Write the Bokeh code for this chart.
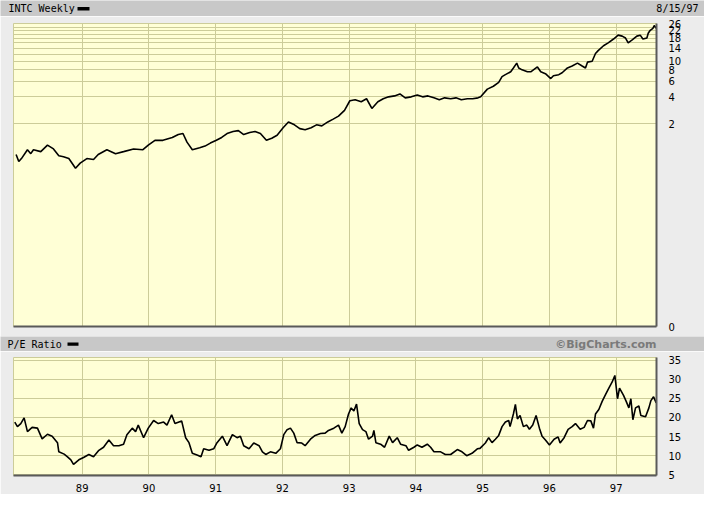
from bokeh.plotting import figure
from bokeh.layouts import column
from bokeh.models import Label, FixedTicker, Range1d, NumeralTickFormatter, BoxAnnotation
from bokeh.embed import file_html
from bokeh.resources import INLINE

# ---------------- data ----------------
price_dates = [1988.01, 1988.05, 1988.09, 1988.18, 1988.23, 1988.27, 1988.38, 1988.48, 1988.57, 1988.65,
               1988.72, 1988.80, 1988.90, 1988.97, 1989.07, 1989.17, 1989.24, 1989.37, 1989.50, 1989.62,
               1989.77, 1989.91, 1989.99, 1990.09, 1990.21, 1990.35, 1990.44, 1990.51, 1990.57, 1990.65,
               1990.76, 1990.84, 1990.92, 1991.01, 1991.09, 1991.17, 1991.26, 1991.34, 1991.42, 1991.51,
               1991.59, 1991.67, 1991.76, 1991.84, 1991.92, 1992.01, 1992.09, 1992.18, 1992.26, 1992.34,
               1992.43, 1992.51, 1992.59, 1992.68, 1992.76, 1992.84, 1992.93, 1993.01, 1993.09, 1993.18,
               1993.26, 1993.34, 1993.43, 1993.51, 1993.59, 1993.68, 1993.76, 1993.84, 1993.93, 1994.02,
               1994.10, 1994.18, 1994.27, 1994.35, 1994.43, 1994.52, 1994.60, 1994.68, 1994.77, 1994.85,
               1994.93, 1994.97, 1995.07, 1995.16, 1995.24, 1995.29, 1995.34, 1995.42, 1995.46, 1995.51,
               1995.54, 1995.59, 1995.67, 1995.72, 1995.76, 1995.82, 1995.87, 1995.94, 1996.02, 1996.06,
               1996.14, 1996.19, 1996.27, 1996.34, 1996.42, 1996.49, 1996.54, 1996.57, 1996.64, 1996.69,
               1996.73, 1996.81, 1996.88, 1996.96, 1997.03, 1997.09, 1997.14, 1997.18, 1997.24, 1997.31,
               1997.36, 1997.40, 1997.46, 1997.48, 1997.51, 1997.55, 1997.57, 1997.60]
price = [0.91, 0.76, 0.82, 1.03, 0.93, 1.03, 0.98, 1.16, 1.05, 0.88,
         0.86, 0.82, 0.64, 0.73, 0.82, 0.80, 0.91, 1.03, 0.93, 0.98,
         1.05, 1.03, 1.16, 1.31, 1.31, 1.41, 1.52, 1.56, 1.25, 1.03,
         1.08, 1.13, 1.22, 1.31, 1.41, 1.56, 1.64, 1.68, 1.52, 1.60,
         1.64, 1.56, 1.31, 1.38, 1.49, 1.81, 2.10, 1.95, 1.77, 1.72,
         1.81, 1.95, 1.90, 2.10, 2.26, 2.44, 2.83, 3.62, 3.71, 3.53,
         3.81, 2.97, 3.53, 3.81, 4.00, 4.10, 4.31, 3.90, 4.00, 4.20,
         4.00, 4.10, 3.90, 3.71, 3.90, 3.81, 3.90, 3.71, 3.81, 3.81,
         3.90, 4.00, 4.88, 5.25, 5.80, 6.73, 7.07, 7.61, 8.40, 9.51,
         8.40, 8.00, 7.61, 7.61, 8.00, 8.62, 7.61, 7.25, 6.40, 6.89,
         7.07, 7.43, 8.40, 8.83, 9.51, 8.83, 8.40, 9.75, 9.99, 12.18,
         13.12, 14.85, 16.00, 17.66, 19.50, 19.02, 18.10, 16.00, 17.23, 19.02,
         19.50, 17.66, 18.10, 20.49, 22.07, 23.19, 24.98, 23.19]

pe_dates = [1987.99, 1988.03, 1988.08, 1988.13, 1988.18, 1988.25, 1988.33, 1988.40, 1988.48, 1988.55,
            1988.63, 1988.65, 1988.73, 1988.78, 1988.83, 1988.87, 1988.95, 1989.02, 1989.10, 1989.17,
            1989.25, 1989.32, 1989.40, 1989.47, 1989.55, 1989.62, 1989.67, 1989.75, 1989.80, 1989.84,
            1989.92, 1989.99, 1990.07, 1990.14, 1990.22, 1990.27, 1990.34, 1990.39, 1990.49,
            1990.55, 1990.60, 1990.65, 1990.73, 1990.78, 1990.82, 1990.90, 1990.97, 1991.02, 1991.10,
            1991.17, 1991.25, 1991.32, 1991.37, 1991.42, 1991.50, 1991.57, 1991.65, 1991.70, 1991.75,
            1991.82, 1991.90, 1991.97, 1992.02, 1992.07, 1992.12, 1992.17, 1992.22, 1992.29, 1992.34,
            1992.42, 1992.49, 1992.57, 1992.64, 1992.69, 1992.77, 1992.84, 1992.89, 1992.94, 1992.99,
            1993.03, 1993.07, 1993.11, 1993.15, 1993.20, 1993.25, 1993.29, 1993.35, 1993.37, 1993.40,
            1993.47, 1993.53, 1993.60, 1993.65, 1993.72, 1993.77, 1993.85, 1993.89, 1993.97, 1994.02,
            1994.09, 1994.17, 1994.22, 1994.27, 1994.37, 1994.44, 1994.52, 1994.62, 1994.69, 1994.76,
            1994.84, 1994.92, 1994.96, 1995.04, 1995.09, 1995.14, 1995.19, 1995.24, 1995.29, 1995.34,
            1995.39, 1995.41, 1995.46, 1995.49, 1995.52, 1995.56, 1995.61, 1995.66, 1995.70, 1995.75,
            1995.80, 1995.85, 1995.89, 1995.94, 1996.00, 1996.07, 1996.13, 1996.16, 1996.22, 1996.28,
            1996.34, 1996.39, 1996.46, 1996.52, 1996.57, 1996.62, 1996.66, 1996.69, 1996.74, 1996.79,
            1996.84, 1996.89, 1996.94, 1996.98, 1997.02, 1997.05, 1997.11, 1997.15, 1997.19, 1997.22,
            1997.25, 1997.29, 1997.34, 1997.37, 1997.44, 1997.49, 1997.52, 1997.56, 1997.60]
pe = [18.8, 17.6, 18.4, 19.9, 16.3, 17.4, 17.2, 14.4, 15.6, 15.1,
      13.4, 11.0, 10.4, 9.7, 8.9, 7.7, 8.9, 9.5, 10.3, 9.7,
      11.4, 12.2, 14.1, 12.6, 12.6, 13.0, 15.5, 17.2, 16.3, 18.0,
      14.7, 17.2, 19.2, 18.4, 18.8, 18.0, 20.7, 18.4, 19.1, 14.7,
      13.4, 10.6, 10.1, 9.7, 11.8, 11.4, 11.8, 13.4, 15.1, 12.6,
      15.5, 14.7, 15.1, 12.6, 11.8, 13.3, 12.6, 11.0, 10.3, 11.0,
      10.6, 11.8, 15.5, 16.8, 17.2, 15.9, 13.4, 13.3, 12.6, 14.3,
      15.3, 15.8, 15.9, 16.6, 17.2, 18.0, 15.9, 17.6, 20.9, 22.5,
      21.7, 23.5, 18.4, 16.8, 16.3, 14.3, 15.1, 16.6, 13.4, 13.0,
      12.2, 15.1, 13.4, 14.7, 13.0, 12.6, 11.4, 12.2, 12.8, 12.2,
      13.0, 12.2, 11.0, 11.0, 10.3, 10.3, 11.6, 11.0, 10.0, 10.6,
      11.8, 11.9, 13.3, 14.7, 13.4, 14.3, 15.3, 17.6, 18.8, 19.2,
      17.6, 20.9, 23.4, 19.6, 20.5, 17.6, 18.0, 16.9, 18.0, 20.5,
      17.2, 15.1, 14.1, 12.8, 14.3, 14.9, 13.3, 14.7, 16.9, 17.6,
      18.4, 16.9, 17.4, 19.2, 19.1, 17.2, 20.9, 22.1, 24.2, 26.0,
      27.7, 29.3, 31.0, 24.9, 27.7, 25.8, 24.2, 22.5, 24.9, 19.4,
      22.5, 23.0, 20.5, 20.2, 22.5, 24.4, 25.4, 23.8]

year_ticks = [1989, 1990, 1991, 1992, 1993, 1994, 1995, 1996, 1997]
year_labels = ["89", "90", "91", "92", "93", "94", "95", "96", "97"]
price_label_ticks = [0.011, 2, 4, 6, 8, 10, 14, 18, 22, 26]
price_grid_ticks = [2, 4, 6, 8, 10, 12, 14, 16, 18, 20, 22, 24, 26]
pe_ticks = [5, 10, 15, 20, 25, 30, 35]

# ---------------- style ----------------
BG = "#ececec"
BAR = "#c8c8c8"
PLOT_BG = "#ffffd6"
GRID = "#cccc99"
EDGE = "#5a5a5a"
W = 704
LEFT, RIGHT = 13, 48
LABEL_FONT = "DejaVu Sans"
MONO = "DejaVu Sans Mono"


def header(height, left_text, left_px, swatch_px, right_text, right_px, right_bold, right_color):
    # full-width strip; opt out of frame alignment with the charts below
    f = figure(width=W, height=height, x_range=Range1d(0, W), y_range=Range1d(0, 1),
               x_axis_type=None, y_axis_type=None, toolbar_location=None,
               output_backend="svg", title=None, frame_align=False,
               min_border_left=0, min_border_right=0, min_border_top=0, min_border_bottom=0)
    f.background_fill_color = BAR
    f.border_fill_color = BAR
    f.outline_line_color = None
    f.add_layout(Label(x=left_px, y=0.5, text=left_text, text_font=MONO,
                       text_font_size="10px", text_baseline="middle", text_color="black"))
    f.add_layout(BoxAnnotation(left=swatch_px[0], right=swatch_px[1],
                               bottom=0.38, top=0.6, fill_color="black", fill_alpha=1, line_color=None))
    f.add_layout(Label(x=right_px, y=0.5, text=right_text,
                       text_font=(LABEL_FONT if right_bold else MONO),
                       text_font_style=("bold" if right_bold else "normal"),
                       text_font_size=("11px" if right_bold else "10px"),
                       text_align="right", text_baseline="middle", text_color=right_color))
    return f


def style_panel(p):
    p.background_fill_color = PLOT_BG
    p.border_fill_color = BG
    p.outline_line_color = GRID
    p.xgrid.ticker = FixedTicker(ticks=year_ticks)
    p.xgrid.grid_line_color = GRID
    p.ygrid.grid_line_color = GRID
    for ax in p.yaxis:
        ax.axis_line_color = EDGE
        ax.axis_line_width = 2
        ax.major_tick_line_color = None
        ax.minor_tick_line_color = None
        ax.major_label_standoff = 6
        ax.major_label_text_font = LABEL_FONT
        ax.major_label_text_font_size = "10px"
        ax.major_label_text_color = "black"
    for ax in p.xaxis:
        ax.axis_line_color = EDGE
        ax.axis_line_width = 2
        ax.major_tick_line_color = None
        ax.minor_tick_line_color = None


x_range = Range1d(1987.971, 1997.604)

head1 = header(16, "INTC Weekly", 8, (77, 89), "8/15/97", 698, False, "black")

top = figure(width=W, height=320, x_range=x_range, y_range=Range1d(0.011, 26.3),
             y_axis_type="log", y_axis_location="right", toolbar_location=None,
             output_backend="svg", title=None,
             min_border_left=LEFT, min_border_right=RIGHT, min_border_top=7, min_border_bottom=10)
top.line(price_dates, price, line_color="black", line_width=1.6)
style_panel(top)
top.yaxis.ticker = FixedTicker(ticks=price_label_ticks)
top.yaxis.formatter = NumeralTickFormatter(format="0")
top.ygrid.ticker = FixedTicker(ticks=price_grid_ticks)
top.xaxis.ticker = FixedTicker(ticks=[])
top.xaxis.major_label_text_font_size = "0px"

head2 = header(15, "P/E Ratio", 7, (67, 78), "©BigCharts.com", 656, True, "#7a7a7a")

bot = figure(width=W, height=143, x_range=x_range, y_range=Range1d(4.8, 35.7),
             y_axis_location="right", toolbar_location=None, output_backend="svg", title=None,
             min_border_left=LEFT, min_border_right=RIGHT, min_border_top=6, min_border_bottom=13)
bot.line(pe_dates, pe, line_color="black", line_width=1.6)
style_panel(bot)
bot.yaxis.ticker = FixedTicker(ticks=pe_ticks)
bot.ygrid.ticker = FixedTicker(ticks=pe_ticks)
bot.xaxis.ticker = FixedTicker(ticks=year_ticks)
bot.xaxis.major_label_overrides = dict(zip(year_ticks, year_labels))
bot.xaxis.major_label_standoff = 2
bot.xaxis.major_label_text_font = LABEL_FONT
bot.xaxis.major_label_text_font_size = "10px"
bot.xaxis.major_label_text_color = "black"

layout = column(head1, top, head2, bot, spacing=0)

open("out.html", "w").write(file_html(layout, INLINE))
